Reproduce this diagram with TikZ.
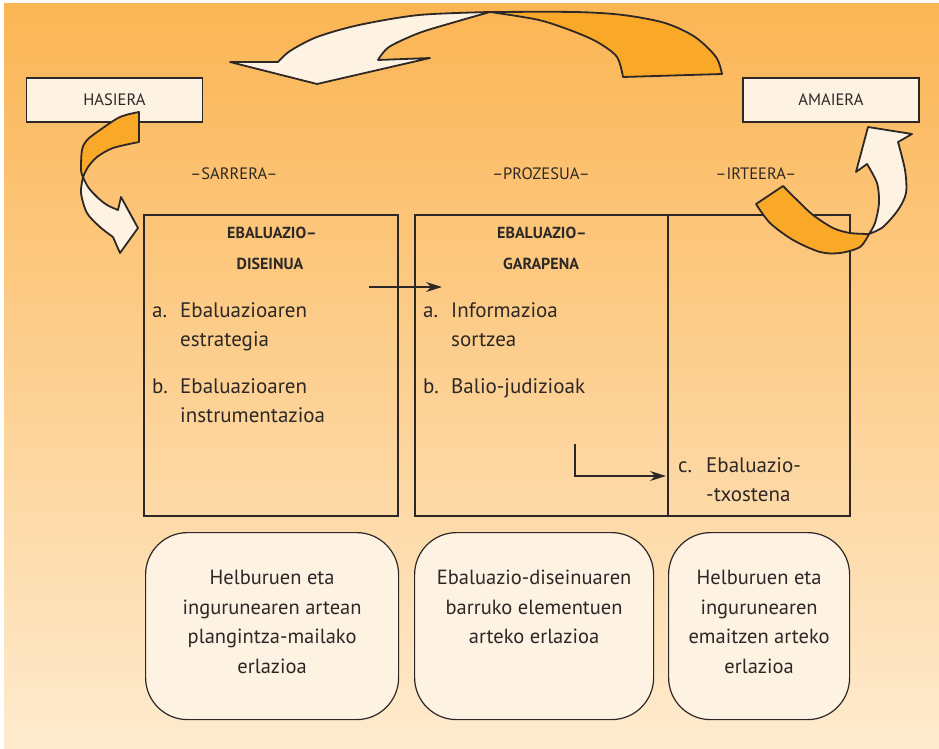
\documentclass[tikz,border=0pt]{standalone}
\usepackage{fontspec}
\setmainfont{PT Sans}
\usetikzlibrary{positioning,arrows.meta}

\definecolor{bgtop}{RGB}{251,181,84}
\definecolor{bgbot}{RGB}{254,235,207}
\definecolor{cream}{RGB}{254,242,227}
\definecolor{ribbon}{RGB}{249,168,40}
\definecolor{ink}{RGB}{45,40,38}

\begin{document}
\begin{tikzpicture}[x=1pt, y=-1pt,
    endbox/.style={draw=ink, fill=cream, line width=1.8pt, minimum width=176pt, minimum height=44pt, inner sep=0pt, text=ink, font=\fontsize{16.5}{18}\selectfont},
    phasebox/.style={draw=ink, line width=1.8pt, minimum height=301pt, inner sep=0pt, anchor=north west},
    relbox/.style={draw=ink, fill=cream, line width=1.2pt, rounded corners=42pt, minimum height=187pt, inner sep=0pt, anchor=north west},
    reltext/.style={align=center, inner sep=0pt, text=ink, font=\fontsize{20.5}{29.5}\selectfont},
    phase/.style={text=ink, inner sep=0pt, font=\fontsize{16.5}{18}\selectfont},
    head/.style={text=ink, inner sep=0pt, font=\fontsize{16}{18}\selectfont\bfseries},
    item/.style={anchor=base west, inner sep=0pt, text=ink, font=\fontsize{21}{24}\selectfont},
    flow/.style={draw=ink, line width=1.3pt, -{Stealth[length=16pt, width=10pt]}},
    band/.style={draw=ink, line width=1.8pt, line join=round}
  ]
  \useasboundingbox (0,0) rectangle (939,749);
  \shade[top color=bgtop, bottom color=bgbot] (4,4) rectangle (939,749);

  % start and end
  \node[endbox] (hasiera) at (114.5,100) {HASIERA};
  \node[endbox] (amaiera) at (831,100) {AMAIERA};

  \node[phase] (sarrera) at (234,174) {--SARRERA--};
  \node[phase] (prozesua) at (541,174) {--PROZESUA--};
  \node[phase] (irteera) at (756,174) {--IRTEERA--};

  % the three phases
  \node[phasebox, minimum width=254pt] (diseinua) at (143,214) {};
  \node[phasebox, minimum width=253pt] (garapena) at (414,214) {};
  \node[phasebox, minimum width=182pt] (txostena) at (667,214) {};

  \node[head] (dh1) at (272,233) {EBALUAZIO--};
  \node[head] (dh2) at (270,264) {DISEINUA};
  \node[head] (gh1) at (542,233) {EBALUAZIO--};
  \node[head] (gh2) at (541,264) {GARAPENA};

  \node[item] (da) at (152,317) {a.};
  \node[item] (da1) at (180,317) {Ebaluazioaren};
  \node[item] (da2) at (180,346) {estrategia};
  \node[item] (db) at (152,393) {b.};
  \node[item] (db1) at (180,393) {Ebaluazioaren};
  \node[item] (db2) at (180,422) {instrumentazioa};

  \node[item] (ga) at (423,317) {a.};
  \node[item] (ga1) at (451,317) {Informazioa};
  \node[item] (ga2) at (451,346) {sortzea};
  \node[item] (gb) at (423,393) {b.};
  \node[item] (gb1) at (451,393) {Balio-judizioak};

  \node[item] (tc) at (678,472) {c.};
  \node[item] (tc1) at (706,472) {Ebaluazio-};
  \node[item] (tc2) at (706,501) {-txostena};

  \coordinate (d1) at (369,287);
  \coordinate (d2) at (442,287);
  \coordinate (g1) at (575,444);
  \coordinate (t1) at (666,476);
  \draw[flow] (d1) -- (d2);
  \draw[flow] (g1) |- (t1);

  % relations under each phase
  \node[relbox, minimum width=253pt] (rel1) at (145,532) {};
  \node[relbox, minimum width=239pt] (rel2) at (414,532) {};
  \node[relbox, minimum width=181pt] (rel3) at (668,532) {};

  \node[reltext, below=38pt of rel1.north] (txt1) {Helburuen eta\\ ingurunearen artean\\ plangintza-mailako\\ erlazioa};
  \node[reltext, below=38pt of rel2.north] (txt2) {Ebaluazio-diseinuaren\\ barruko elementuen\\ arteko erlazioa};
  \node[reltext, below=38pt of rel3.north] (txt3) {Helburuen eta\\ ingurunearen\\ emaitzen arteko\\ erlazioa};

  % ribbon arrows
  \filldraw[band, fill=ribbon] plot[smooth] coordinates {(722,74) (716,57) (695,37) (665,23) (623,15) (575,12) (490,12)}
    -- plot[smooth] coordinates {(490,12) (539,20) (575,32) (599,43) (617,57) (623,77)} -- cycle;
  \filldraw[band, fill=cream] plot[smooth] coordinates {(490,12) (419,15) (359,25) (317,37) (290,51) (278,62)}
    -- (230,62) -- (317,84) -- (430,58) -- (378,60)
    -- plot[smooth] coordinates {(378,60) (389,47) (419,33) (455,22) (490,12)} -- cycle;

  \filldraw[band, fill=ribbon] plot[smooth] coordinates {(139,112) (120,117) (100,130) (87,140) (82,150) (81,170) (83,177)}
    -- plot[smooth] coordinates {(83,177) (88,167) (97,157) (113,148) (139,142)} -- cycle;
  \filldraw[band, fill=cream] plot[smooth] coordinates {(83,177) (81,193) (87,213) (100,227) (113,237)}
    -- (120,253) -- (138,228) -- (121,197) -- (118,210)
    -- plot[smooth] coordinates {(118,210) (107,205) (97,197) (88,187) (83,177)} -- cycle;

  \filldraw[band, fill=ribbon] plot[smooth] coordinates {(756,204) (770,223) (793,240) (820,252) (840,253) (860,247) (869,234)}
    -- plot[smooth] coordinates {(869,234) (850,233) (833,228) (813,215) (797,200) (783,186)} -- cycle;
  \filldraw[band, fill=cream] plot[smooth] coordinates {(869,234) (883,227) (898,210) (906,193) (905,170) (898,142)}
    -- (912,134) -- (868,127) -- (856,172) -- (867,164)
    -- plot[smooth] coordinates {(867,164) (877,183) (879,203) (875,223) (869,234)} -- cycle;
\end{tikzpicture}
\end{document}
